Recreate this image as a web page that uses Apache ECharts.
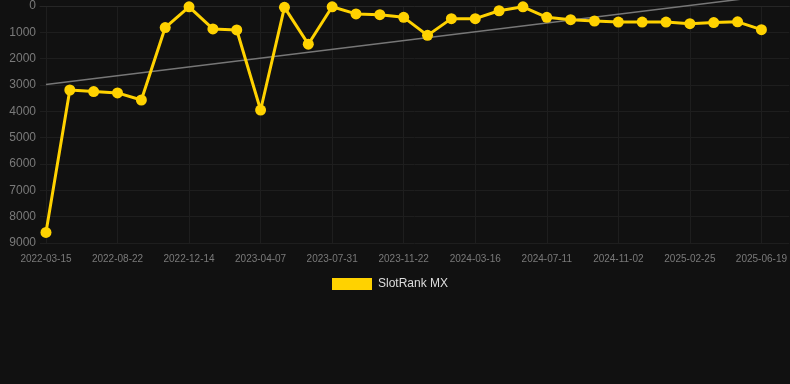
<!DOCTYPE html>
<html>
<head>
<meta charset="utf-8">
<script src="https://cdn.jsdelivr.net/npm/echarts@6/dist/echarts.min.js"></script>
<style>
	html, body { margin: 0; padding: 0; background: #111111; }
	#chart { width: 790px; height: 384px; }
</style>
</head>
<body>
<div id="chart"></div>
<script>
// dates of each rank sample (only every third one is labelled on the axis)
var dates = [
	"2022-03-15", "2022-05-07", "2022-06-30",
	"2022-08-22", "2022-09-29", "2022-11-06",
	"2022-12-14", "2023-01-21", "2023-02-28",
	"2023-04-07", "2023-05-15", "2023-06-22",
	"2023-07-31", "2023-09-07", "2023-10-15",
	"2023-11-22", "2023-12-30", "2024-02-07",
	"2024-03-16", "2024-04-24", "2024-06-02",
	"2024-07-11", "2024-08-18", "2024-09-25",
	"2024-11-02", "2024-12-10", "2025-01-17",
	"2025-02-25", "2025-04-03", "2025-05-11",
	"2025-06-19"
];

var rankMX = [
	8600, 3190, 3250, 3300, 3570, 820, 30, 870, 910, 3950,
	50, 1450, 30, 300, 330, 430, 1115, 480, 480, 180,
	30, 430, 520, 570, 610, 610, 610, 670, 630, 600,
	900
];

// trend line end points (first and last sample)
var trendStart = 2983;
var trendEnd = -355;

var yTicks = [0, 1000, 2000, 3000, 4000, 5000, 6000, 7000, 8000, 9000];

var chart = echarts.init(document.getElementById("chart"), null, { renderer: "canvas" });

var rankData = [],
	labelIdx = [],
	i;

for (i = 0; i < rankMX.length; i++)
{
	rankData.push([i, rankMX[i]]);
	if (i % 3 == 0)
		labelIdx.push(i);
}

var option = {
	backgroundColor: "#111111",
	animation: false,
	textStyle: {
		fontFamily: "Arial, 'Liberation Sans', sans-serif"
	},
	grid: {
		left: 40,
		right: 0,
		top: 6,
		bottom: 141
	},
	legend: {
		top: 273,
		left: 327,
		itemWidth: 40,
		itemHeight: 12,
		itemGap: 10,
		icon: "rect",
		data: ["SlotRank MX"],
		textStyle: {
			color: "#dddddd",
			fontSize: 12,
			padding: [0, 0, 0, 1]
		}
	},
	xAxis: {
		type: "value",
		min: -0.25,
		max: 31.17,
		axisLine: { show: true, lineStyle: { color: "#262626" } },
		axisTick: { show: false, customValues: labelIdx },
		splitLine: { show: true, lineStyle: { color: "#1e1e1e" } },
		axisLabel: {
			customValues: labelIdx,
			color: "#7a7a7a",
			fontSize: 10,
			margin: 11,
			formatter: function(v) {
				return dates[Math.round(v)] || "";
			}
		}
	},
	yAxis: {
		type: "value",
		inverse: true,
		min: yTicks[0],
		max: yTicks[yTicks.length - 1],
		interval: 1000,
		axisLine: { show: false },
		axisTick: { show: false },
		splitLine: { show: true, lineStyle: { color: "#1e1e1e" } },
		axisLabel: {
			color: "#7a7a7a",
			fontSize: 12,
			margin: 4,
			formatter: function(v) {
				return String(v);
			}
		}
	},
	series: [
		{
			name: "SlotRank MX",
			type: "line",
			data: rankData,
			color: "#ffd200",
			symbol: "circle",
			symbolSize: 11,
			lineStyle: { width: 3, color: "#ffd200" },
			itemStyle: { color: "#ffd200" },
			z: 3
		},
		{
			name: "trend",
			type: "line",
			data: [[0, trendStart], [rankMX.length - 1, trendEnd]],
			symbol: "none",
			clip: false,
			silent: true,
			lineStyle: { width: 1.5, color: "#777777" },
			z: 2
		}
	]
};

chart.setOption(option);
</script>
</body>
</html>
